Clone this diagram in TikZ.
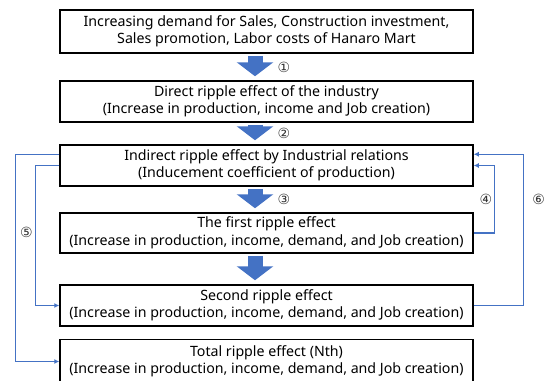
\documentclass[tikz,border=0pt]{standalone}
\usepackage{fontspec}
\setmainfont{Noto Sans}
\newfontfamily\circfont{DejaVu Sans}
\usetikzlibrary{arrows.meta}
\definecolor{flowblue}{RGB}{68, 114, 196}
\tikzset{
  block/.style={draw, line width=1.5pt, minimum width=413pt, minimum height=41pt,
                inner sep=0pt, align=center, font=\fontsize{14.2}{17.5}\selectfont},
  bigarrow/.style={flowblue, line width=15pt, -{Triangle[width=36pt, length=14pt]},
                   shorten <=2pt, shorten >=4pt},
  feedback/.style={flowblue, line width=1.3pt, -{Latex[length=5pt, width=5pt]}},
  num/.style={font=\circfont\fontsize{14}{14}\selectfont, text=black!80, inner sep=1pt},
}

\begin{document}
\begin{tikzpicture}[x=1pt, y=1pt]
  \useasboundingbox (0,0) rectangle (551,-380);

  \node[block, minimum height=43pt] (demand) at (266.5,-31.5)
    {Increasing demand for Sales, Construction investment,\\Sales promotion, Labor costs of Hanaro Mart};
  \node[block] (direct) at (266.5,-101.5)
    {Direct ripple effect of the industry\\(Increase in production, income and Job creation)};
  \node[block] (indirect) at (266.5,-165.5)
    {Indirect ripple effect by Industrial relations\\(Inducement coefficient of production)};
  \node[block, minimum height=40pt] (first) at (266.5,-233)
    {The first ripple effect\\(Increase in production, income, demand, and Job creation)};
  \node[block] (second) at (266.5,-305.5)
    {Second ripple effect\\(Increase in production, income, demand, and Job creation)};
  \node[block, minimum height=44pt] (total) at (266.5,-361.5)
    {Total ripple effect (Nth)\\(Increase in production, income, demand, and Job creation)};

  \draw[bigarrow] ([xshift=-11.5pt]demand.south) -- ([xshift=-11.5pt]direct.north)
    node[num, midway, xshift=29pt] {①};
  \draw[bigarrow] ([xshift=-11.5pt]direct.south) -- ([xshift=-11.5pt]indirect.north)
    node[num, midway, xshift=29pt] {②};
  \draw[bigarrow] ([xshift=-11.5pt]indirect.south) -- ([xshift=-11.5pt]first.north)
    node[num, midway, xshift=29pt] {③};
  \draw[bigarrow] ([xshift=-11.5pt]first.south) -- ([xshift=-11.5pt]second.north);

  \draw[feedback] ([yshift=-10pt]indirect.north west) -- ++(-44,0) |- (total.west);
  \draw[feedback] (indirect.west) -- ++(-24,0)
    |- node[num, pos=0.24, left=1pt] {⑤} (second.west);
  \draw[feedback] (first.east) -- ++(21,0)
    |- node[num, pos=0.25, left=1pt] {④} (indirect.east);
  \draw[feedback] (second.east) -- ++(50,0)
    |- node[num, pos=0.35, right=7pt] {⑥} ([yshift=-10pt]indirect.north east);
\end{tikzpicture}
\end{document}
